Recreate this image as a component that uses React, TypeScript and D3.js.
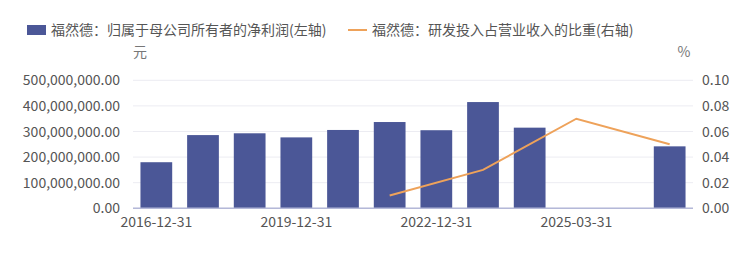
import React from "react";
import * as d3 from "d3";

const categories = [
  "2016-12-31", "2017-12-31", "2018-12-31", "2019-12-31", "2020-12-31", "2021-12-31",
  "2022-12-31", "2023-12-31", "2024-12-31", "2025-03-31", "2025-06-30", "2025-09-30",
];
const netProfit: (number | null)[] = [
  180e6, 286e6, 293e6, 277e6, 306e6, 337e6, 305e6, 415e6, 315e6, null, null, 242e6,
];
const rdRatio: (number | null)[] = [
  null, null, null, null, null, 0.01, null, 0.03, null, 0.07, null, 0.05,
];
const leftTicks = [0, 100e6, 200e6, 300e6, 400e6, 500e6];
const rightTicks = [0, 0.02, 0.04, 0.06, 0.08, 0.1];
const xLabelIdx = [0, 3, 6, 9];
const legendBar = "福然德：归属于母公司所有者的净利润(左轴)";
const legendLine = "福然德：研发投入占营业收入的比重(右轴)";

const W = 754, H = 276;
const m = { left: 133, right: 693, top: 80.3, bottom: 208.3 };
const FONT = "'Noto Sans CJK SC', 'Noto Sans', sans-serif";
const BAR = "#4b5797";
const LINE = "#eea25a";
const TXT = "#555";
const FS = 14;

export default function App() {
  const x = d3.scaleBand<string>().domain(categories).range([m.left, m.right]).padding(0);
  const step = x.step();
  const cx = (i: number) => (x(categories[i]) as number) + step / 2;
  const bw = step * 0.68;
  const yL = d3.scaleLinear().domain([0, 500e6]).range([m.bottom, m.top]);
  const yR = d3.scaleLinear().domain([0, 0.1]).range([m.bottom, m.top]);
  const fmtL = (v: number) => d3.format(",.2f")(v);
  const fmtR = d3.format(".2f");
  const pts = rdRatio
    .map((v, i) => (v == null ? null : ([cx(i), yR(v)] as [number, number])))
    .filter((p): p is [number, number] => p !== null);
  const line = d3.line<[number, number]>()(pts) || "";
  return (
    <svg width={W} height={H} style={{ position: "absolute", left: 0, top: 0, background: "#fff" }} fontFamily={FONT}>
      {/* legend */}
      <rect x={27} y={25} width={19} height={10} fill={BAR} />
      <text x={51} y={35} fontSize={FS} fill={TXT}>{legendBar}</text>
      <line x1={348} x2={367} y1={30} y2={30} stroke={LINE} strokeWidth={2} />
      <text x={372} y={35} fontSize={FS} fill={TXT}>{legendLine}</text>
      {/* axis names */}
      <text x={133} y={57} fontSize={FS} fill="#777">元</text>
      <text x={684} y={57} fontSize={FS} fill="#777" textAnchor="middle">%</text>
      {/* grid */}
      {leftTicks.map((t) => (
        <line key={t} x1={m.left} x2={m.right} y1={yL(t)} y2={yL(t)} stroke="#ececf2" strokeWidth={1} />
      ))}
      {leftTicks.map((t) => (
        <text key={"l" + t} x={120} y={yL(t) + 5} fontSize={FS} fill={TXT} textAnchor="end">{fmtL(t)}</text>
      ))}
      {rightTicks.map((t) => (
        <text key={"r" + t} x={702} y={yR(t) + 5} fontSize={FS} fill={TXT}>{fmtR(t)}</text>
      ))}
      {/* bars */}
      {netProfit.map((v, i) =>
        v == null ? null : (
          <rect key={i} x={cx(i) - bw / 2} y={yL(v)} width={bw} height={yL(0) - yL(v)} fill={BAR} />
        )
      )}
      <line x1={m.left} x2={m.right} y1={m.bottom} y2={m.bottom} stroke="#b4b8d8" strokeWidth={1.5} />
      <path d={line} fill="none" stroke={LINE} strokeWidth={2} />
      {xLabelIdx.map((i) => (
        <text key={i} x={cx(i)} y={227} fontSize={FS} fill={TXT} textAnchor="middle">{categories[i]}</text>
      ))}
    </svg>
  );
}
